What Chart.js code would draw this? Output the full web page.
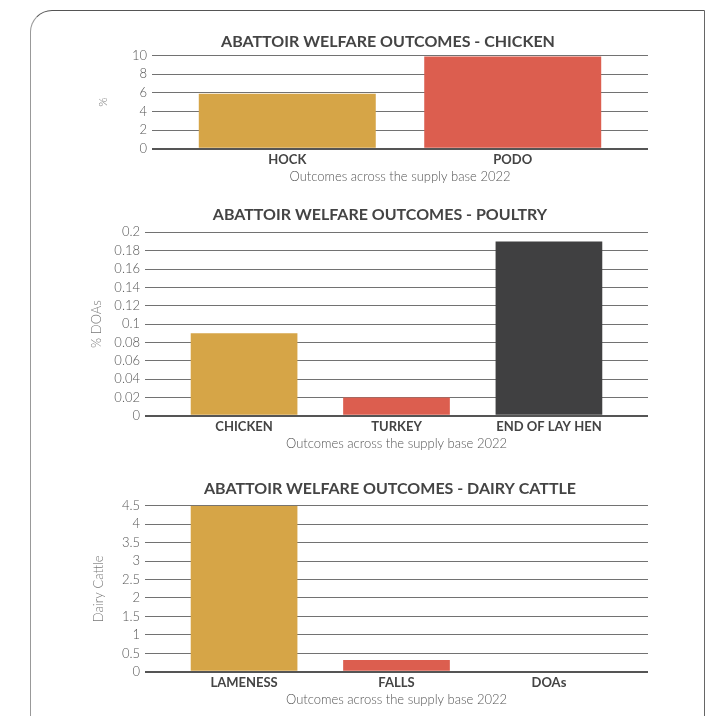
<!DOCTYPE html>
<html>
<head>
<meta charset="utf-8">
<script src="https://cdn.jsdelivr.net/npm/chart.js@4.4.1/dist/chart.umd.min.js"></script>
<style>
  body { margin: 0; background: #fff; width: 718px; height: 716px; overflow: hidden; position: relative; }
  #frame {
    position: absolute; left: 30px; top: 10px; width: 673px; height: 760px;
    border: 1.5px solid #666; border-left-color: #999; border-top-color: #555;
    border-top-left-radius: 22px;
  }
  .box { position: absolute; left: 80px; }
</style>
</head>
<body>
<div id="frame"></div>
<div class="box" style="top:30px"><canvas id="chicken" width="616" height="157"></canvas></div>
<div class="box" style="top:203px"><canvas id="poultry" width="600" height="251"></canvas></div>
<div class="box" style="top:477px"><canvas id="cattle" width="620" height="233"></canvas></div>
<script>
// chart data
var chickenLabels = ["HOCK", "PODO"];
var chickenValues = [5.9, 9.9];

var poultryLabels = ["CHICKEN", "TURKEY", "END OF LAY HEN"];
var poultryValues = [0.09, 0.02, 0.19];

var cattleLabels = ["LAMENESS", "FALLS", "DOAs"];
var cattleValues = [4.5, 0.32, 0];

var subtitle = "Outcomes across the supply base 2022";

var gold = "#d6a547";
var red = "#dc5e4f";
var dark = "#404041";

function tickText(v) {
  return parseFloat(v.toFixed(3)).toString();
}

function makeChart(id, opts) {
  var ctx = document.getElementById(id).getContext("2d");
  var labels = opts.labels;
  new Chart(ctx, {
    type: "bar",
    data: {
      datasets: [
        {
          data: opts.values.map(function (v, i) {
            return { x: i + 1, y: v };
          }),
          backgroundColor: opts.colors,
          borderWidth: 0,
          categoryPercentage: 1,
          barPercentage: opts.barPct,
        },
      ],
    },
    options: {
      responsive: false,
      animation: false,
      layout: { padding: 0 },
      plugins: {
        legend: { display: false },
        tooltip: { enabled: false },
        title: {
          display: true,
          text: opts.title,
          color: "#444",
          font: { family: "Lato", size: 16, weight: "bold" },
          padding: { top: 2.4, bottom: opts.titleGap },
        },
      },
      scales: {
        x: {
          type: "linear",
          min: opts.xMin,
          max: opts.xMax,
          offset: false,
          afterBuildTicks: function (axis) {
            axis.ticks = labels.map(function (l, i) {
              return { value: i + 1 };
            });
          },
          grid: { display: false, drawTicks: false },
          border: { display: false },
          ticks: {
            autoSkip: false,
            maxRotation: 0,
            padding: 2.8,
            color: "#444",
            font: { family: "Lato", size: 13, weight: "bold" },
            callback: function (value, index) {
              return labels[index];
            },
          },
          title: {
            display: true,
            text: subtitle,
            color: "#555",
            font: { family: "Lato", size: 13, weight: "300", lineHeight: 1 },
            padding: { top: 0, bottom: 4 },
          },
        },
        y: {
          min: 0,
          max: opts.yMax,
          afterFit: function (axis) {
            axis.width = opts.yWidth;
          },
          grid: {
            drawTicks: false,
            color: function (c) {
              return c.tick && c.tick.value === 0 ? "#555" : "#727272";
            },
            lineWidth: function (c) {
              return c.tick && c.tick.value === 0 ? 2 : 1;
            },
          },
          border: { display: false },
          ticks: {
            stepSize: opts.step,
            autoSkip: false,
            padding: 5,
            color: "#555",
            font: { family: "Lato", size: 13, weight: "300" },
            callback: tickText,
          },
          title: {
            display: true,
            text: opts.yTitle,
            color: "#777",
            font: { family: "Lato", size: opts.yTitleSize, weight: "300" },
            padding: { top: opts.yTitlePad, bottom: 0 },
          },
        },
        // empty right-hand axis, only keeps the title centred like the original
        y2: {
          position: "right",
          afterFit: function (axis) {
            axis.width = opts.rightWidth;
          },
          grid: { display: false, drawTicks: false },
          border: { display: false },
          ticks: { display: false },
        },
      },
    },
  });
}

makeChart("chicken", {
  title: "ABATTOIR WELFARE OUTCOMES - CHICKEN",
  labels: chickenLabels,
  values: chickenValues,
  colors: [gold, red],
  barPct: 0.785,
  xMin: 0.4,
  xMax: 2.6,
  yMax: 10,
  step: 2,
  yWidth: 72,
  rightWidth: 48,
  yTitle: "%",
  yTitleSize: 12,
  yTitlePad: 15.8,
  titleGap: 3.9,
});

makeChart("poultry", {
  title: "ABATTOIR WELFARE OUTCOMES - POULTRY",
  labels: poultryLabels,
  values: poultryValues,
  colors: [gold, red, dark],
  barPct: 0.7,
  xMin: 0.35,
  xMax: 3.65,
  yMax: 0.2,
  step: 0.02,
  yWidth: 65,
  rightWidth: 32,
  yTitle: "% DOAs",
  yTitleSize: 13,
  yTitlePad: 9.2,
  titleGap: 7.7,
});

makeChart("cattle", {
  title: "ABATTOIR WELFARE OUTCOMES - DAIRY CATTLE",
  labels: cattleLabels,
  values: cattleValues,
  colors: [gold, red, dark],
  barPct: 0.7,
  xMin: 0.35,
  xMax: 3.65,
  yMax: 4.5,
  step: 0.5,
  yWidth: 65,
  rightWidth: 52,
  yTitle: "Dairy Cattle",
  yTitleSize: 13,
  yTitlePad: 11.2,
  titleGap: 7.1,
});
</script>
</body>
</html>
